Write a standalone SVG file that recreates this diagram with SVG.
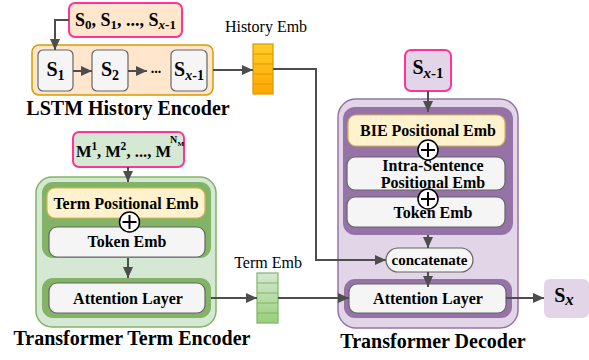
<svg xmlns="http://www.w3.org/2000/svg" width="589" height="360" viewBox="0 0 589 360">
<defs>
<style>
text{font-family:"Liberation Serif","Times New Roman",serif;fill:#000}
.b{font-weight:bold}
.cap{font-weight:bold;font-size:20px;text-anchor:middle}
.lbl{font-size:16px;text-anchor:middle}
.box{font-weight:bold;font-size:16px;text-anchor:middle}
.gray{fill:#f5f5f5;stroke:#666666;stroke-width:1.2}
.yel{fill:#fff2cc;stroke:#d6b656;stroke-width:1.2}
.pink{stroke:#ff3399;stroke-width:2}
.conn{fill:none;stroke:#4d4d4d;stroke-width:2}
.plus circle{fill:#fff;stroke:#000;stroke-width:1.5}
.plus path{stroke:#000;stroke-width:2}
</style>
<marker id="arr" markerUnits="userSpaceOnUse" markerWidth="12" markerHeight="10" refX="11" refY="5" orient="auto">
<path d="M0,0 L11,5 L0,10 Z" fill="#4d4d4d"/>
</marker>
<linearGradient id="gOr" x1="0" y1="0" x2="0" y2="1">
<stop offset="0" stop-color="#ffcd28"/><stop offset="1" stop-color="#ffa500"/>
</linearGradient>
<linearGradient id="gGr" x1="0" y1="0" x2="0" y2="1">
<stop offset="0" stop-color="#d5e8d4"/><stop offset="1" stop-color="#97d077"/>
</linearGradient>
</defs>

<g id="lstm-encoder">
<rect x="32" y="45" width="181" height="50" rx="7" fill="#ffe6cc" stroke="#d79b00" stroke-width="1.5"/>
<text class="cap" x="128" y="115">LSTM History Encoder</text>
</g>
<g id="history-input">
<rect x="69" y="3" width="113" height="34" rx="6" fill="#ffe6cc" class="pink"/>
<text class="b" font-size="18" x="125.5" y="26" text-anchor="middle">S<tspan font-size="13" dy="3">0</tspan><tspan dy="-3">, S</tspan><tspan font-size="13" dy="3">1</tspan><tspan dy="-3">, ..., S</tspan><tspan font-size="13" dy="3" font-style="italic">x</tspan><tspan font-size="13">-1</tspan></text>
</g>
<g id="s1">
<rect x="38" y="50" width="35" height="41" rx="5" class="gray"/>
<text class="b" font-size="20" x="55.5" y="76" text-anchor="middle">S<tspan font-size="14" dy="4">1</tspan></text>
</g>
<g id="s2">
<rect x="92" y="50" width="36" height="41" rx="5" class="gray"/>
<text class="b" font-size="20" x="110" y="76" text-anchor="middle">S<tspan font-size="14" dy="4">2</tspan></text>
</g>
<g id="ellipsis">
<text class="b" font-size="14" x="156" y="73" text-anchor="middle">...</text>
</g>
<g id="sx-1-lstm">
<rect x="171" y="50" width="36" height="41" rx="5" class="gray"/>
<text class="b" font-size="20" x="189" y="76" text-anchor="middle">S<tspan font-size="14" dy="4" font-style="italic">x</tspan><tspan font-size="14">-1</tspan></text>
</g>
<g id="history-emb">
<text class="lbl" x="266" y="32">History Emb</text>
<rect x="253" y="44" width="20" height="50" fill="url(#gOr)" stroke="#d79b00" stroke-width="1.2"/>
<path d="M253,54H273M253,64H273M253,74H273M253,84H273" stroke="#d79b00" stroke-width="1.2"/>
</g>

<g id="term-encoder">
<rect x="36" y="177" width="180" height="150" rx="16" fill="#d5e8d4" stroke="#82b366" stroke-width="1.5"/>
<rect x="42" y="182" width="169" height="76" rx="11" fill="#82b366"/>
<rect x="42" y="278" width="169" height="40" rx="11" fill="#82b366"/>
<text class="cap" x="132" y="345">Transformer Term Encoder</text>
</g>
<g id="term-input">
<rect x="73" y="132" width="111" height="35" rx="6" fill="#d5e8d4" class="pink"/>
<text class="b" font-size="16.5" y="157"><tspan x="76">M</tspan><tspan x="91.5" y="150" font-size="11.5">1</tspan><tspan x="97" y="157">, M</tspan><tspan x="120.5" y="150" font-size="11.5">2</tspan><tspan x="126.5" y="157">, ..., M</tspan><tspan x="170" y="143" font-size="10">N</tspan><tspan x="177.5" y="146" font-size="7">M</tspan></text>
</g>
<g id="term-pos-emb">
<rect x="47" y="188" width="158" height="30" rx="8" class="yel"/>
<text class="box" x="126" y="208.5">Term Positional Emb</text>
</g>
<g id="term-token-emb">
<rect x="49" y="227" width="156" height="30" rx="8" class="gray"/>
<text class="box" x="127" y="247" font-size="15.5">Token Emb</text>
</g>
<g id="term-plus" class="plus">
<circle cx="129.5" cy="222" r="10"/>
<path d="M122.5,222H136.5M129.5,215V229"/>
</g>
<g id="term-attention">
<rect x="49" y="283" width="156" height="30" rx="8" class="gray"/>
<text class="box" x="128" y="303.5" font-size="18">Attention Layer</text>
</g>
<g id="term-emb">
<text class="lbl" x="268" y="268" font-size="15.5">Term Emb</text>
<rect x="257" y="273" width="21" height="50" fill="url(#gGr)" stroke="#82b366" stroke-width="1.2"/>
<path d="M257,283H278M257,293H278M257,303H278M257,313H278" stroke="#82b366" stroke-width="1.2"/>
</g>

<g id="decoder">
<rect x="338" y="99" width="180" height="229" rx="18" fill="#e1d5e7" stroke="#9673a6" stroke-width="1.5"/>
<rect x="343" y="107" width="170" height="128" rx="12" fill="#9673a6"/>
<rect x="344" y="279" width="168" height="39" rx="11" fill="#9673a6"/>
<text class="cap" x="433" y="348">Transformer Decoder</text>
</g>
<g id="decoder-input">
<rect x="405" y="50" width="46" height="41" rx="6" fill="#e1d5e7" class="pink"/>
<text class="b" font-size="20" x="428" y="74" text-anchor="middle">S<tspan font-size="15" dy="4" font-style="italic">x</tspan><tspan font-size="15">-1</tspan></text>
</g>
<g id="bie-pos-emb">
<rect x="348" y="115" width="157" height="31" rx="8" class="yel"/>
<text class="box" x="428" y="136">BIE Positional Emb</text>
</g>
<g id="intra-pos-emb">
<rect x="347" y="157" width="158" height="33" rx="8" class="gray"/>
<text class="box" x="433" y="171" font-size="15">Intra-Sentence</text>
<text class="box" x="433" y="188" font-size="15">Positional Emb</text>
</g>
<g id="dec-token-emb">
<rect x="347" y="197" width="158" height="30" rx="8" class="gray"/>
<text class="box" x="433" y="218">Token Emb</text>
</g>
<g id="dec-plus-1" class="plus">
<circle cx="428" cy="150" r="10"/>
<path d="M421,150H435M428,143V157"/>
</g>
<g id="dec-plus-2" class="plus">
<circle cx="428" cy="199" r="10"/>
<path d="M421,199H435M428,192V206"/>
</g>
<g id="concatenate">
<rect x="386" y="248" width="87" height="24" rx="12" class="gray"/>
<text class="b" font-size="15" x="429.5" y="264.5" text-anchor="middle">concatenate</text>
</g>
<g id="dec-attention">
<rect x="349" y="284" width="157" height="29" rx="8" class="gray"/>
<text class="box" x="428" y="304" font-size="18">Attention Layer</text>
</g>
<g id="output-sx">
<rect x="544" y="279" width="45" height="39" rx="6" fill="#e1d5e7"/>
<text class="b" font-size="20" x="564" y="302" text-anchor="middle">S<tspan font-size="17" dy="3" font-style="italic">x</tspan></text>
</g>

<g id="connectors">
<path class="conn" d="M69,20H55V50" marker-end="url(#arr)"/>
<path class="conn" d="M73,71H92" marker-end="url(#arr)"/>
<path class="conn" d="M128,71H147" marker-end="url(#arr)"/>
<path class="conn" d="M213,70H253" marker-end="url(#arr)"/>
<path class="conn" d="M273,69H316V260H386" marker-end="url(#arr)"/>
<path class="conn" d="M128,167V182" marker-end="url(#arr)"/>
<path class="conn" d="M128,258V278" marker-end="url(#arr)"/>
<path class="conn" d="M211,298H257" marker-end="url(#arr)"/>
<path class="conn" d="M278,298H349" marker-end="url(#arr)"/>
<path class="conn" d="M428,91V112" marker-end="url(#arr)"/>
<path class="conn" d="M428,235V248" marker-end="url(#arr)"/>
<path class="conn" d="M428,272V287" marker-end="url(#arr)"/>
<path class="conn" d="M506,298H544" marker-end="url(#arr)"/>
</g>
</svg>
